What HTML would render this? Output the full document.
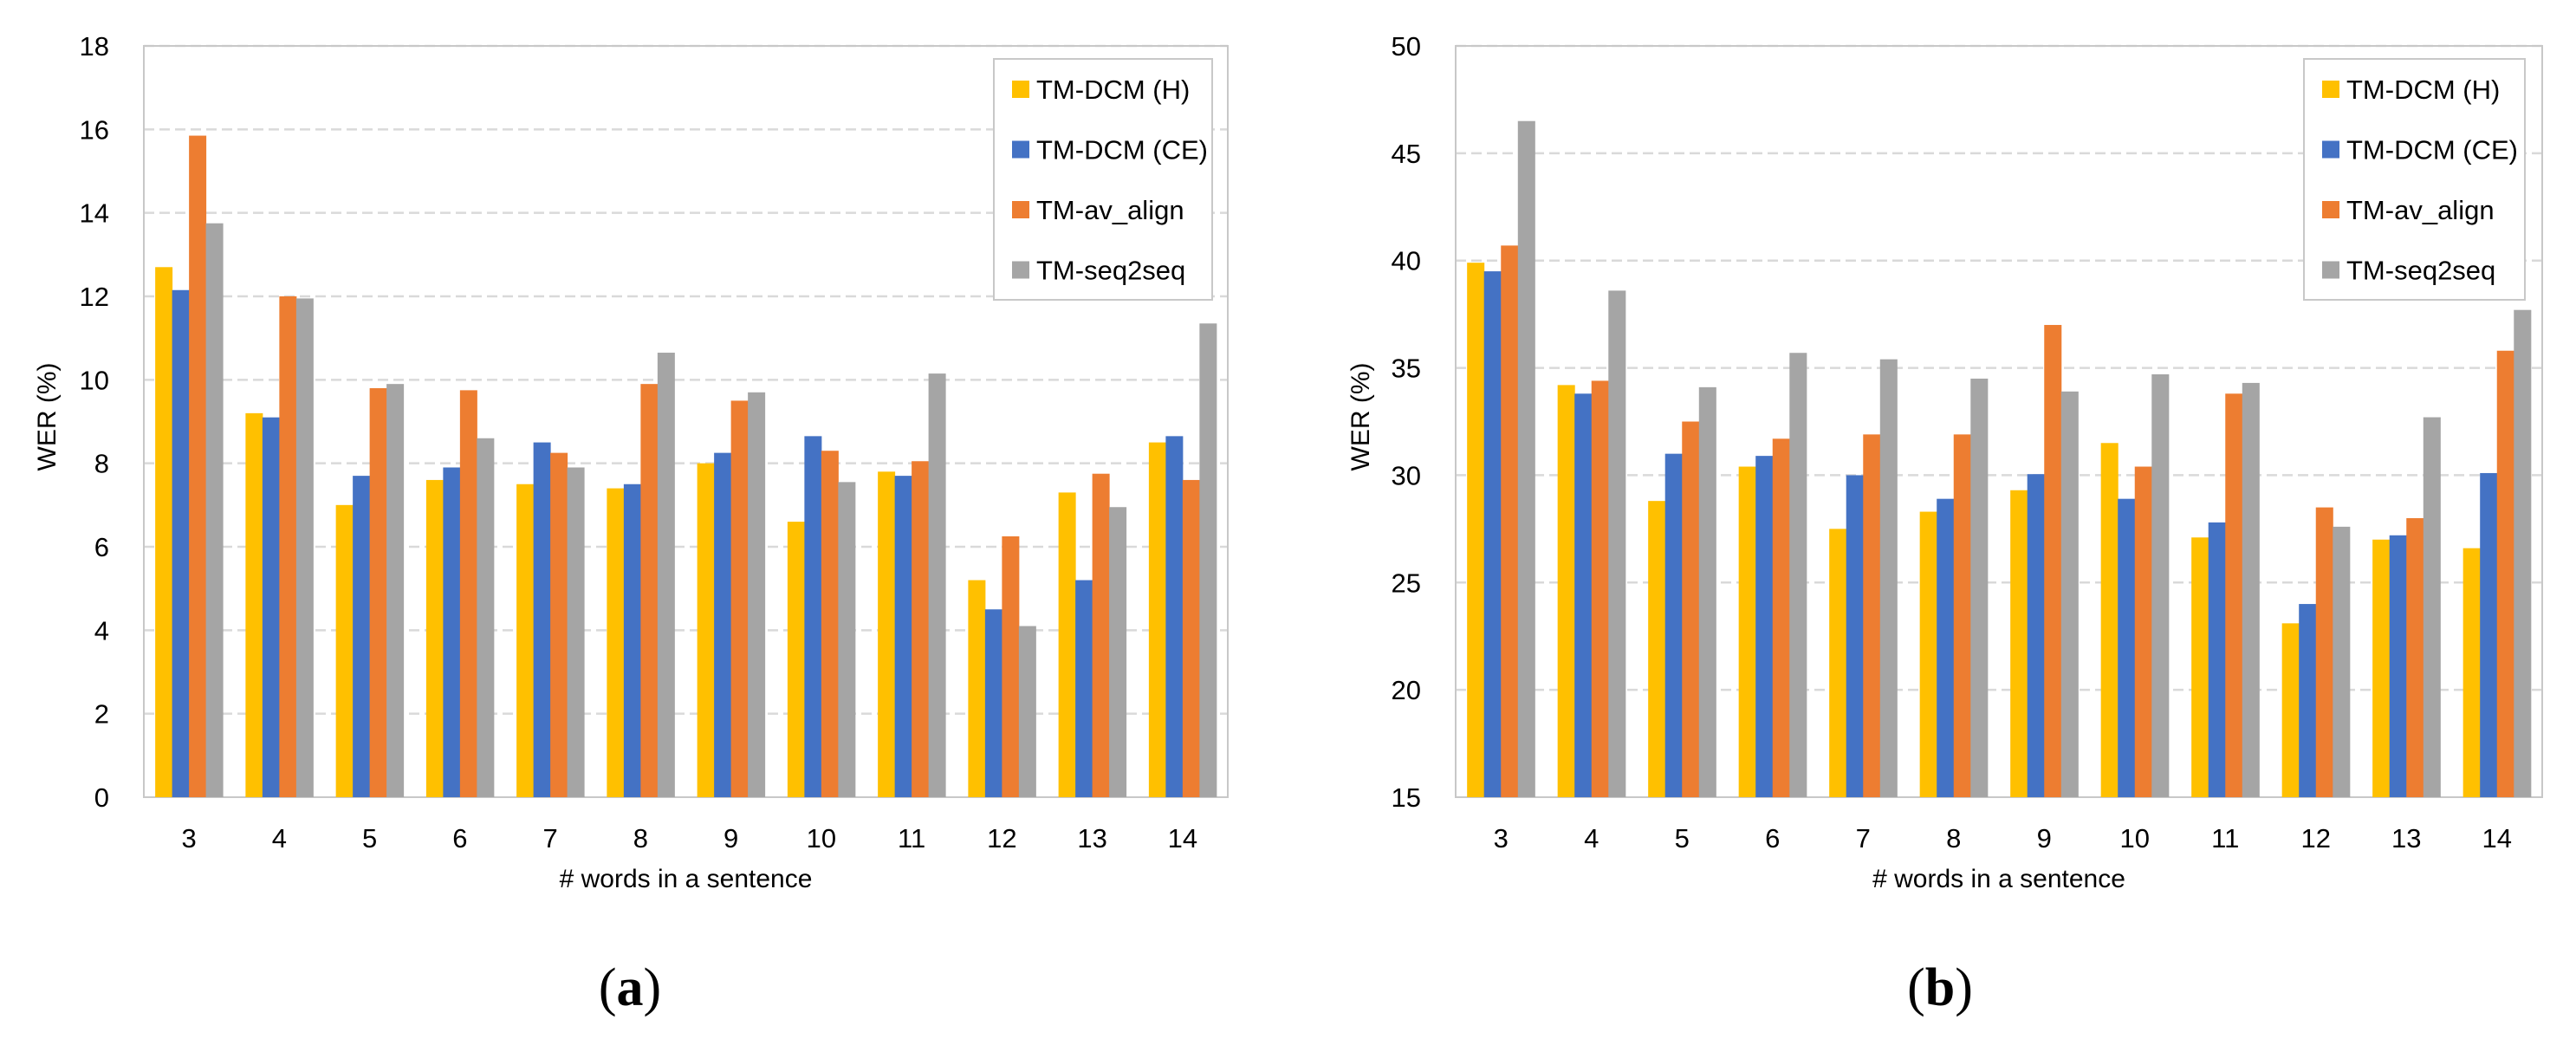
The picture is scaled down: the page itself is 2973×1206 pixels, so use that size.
<!DOCTYPE html>
<html><head><meta charset="utf-8">
<style>
html,body{margin:0;padding:0;background:#fff;}
svg{display:block;font-family:"Liberation Sans",sans-serif;}
</style></head>
<body>
<svg id="svg" width="2973" height="1206" viewBox="0 0 2973 1206" xmlns="http://www.w3.org/2000/svg"></svg>
<script>
const categories = ["3","4","5","6","7","8","9","10","11","12","13","14"];
const seriesNames = ["TM-DCM (H)","TM-DCM (CE)","TM-av_align","TM-seq2seq"];
const colors = ["#FFC000","#4472C4","#ED7D31","#A5A5A5"];
const aH   = [12.7,9.2,7.0,7.6,7.5,7.4,8.0,6.6,7.8,5.2,7.3,8.5];
const aCE  = [12.15,9.1,7.7,7.9,8.5,7.5,8.25,8.65,7.7,4.5,5.2,8.65];
const aAV  = [15.85,12.0,9.8,9.75,8.25,9.9,9.5,8.3,8.05,6.25,7.75,7.6];
const aSEQ = [13.75,11.95,9.9,8.6,7.9,10.65,9.7,7.55,10.15,4.1,6.95,11.35];
const bH   = [39.9,34.2,28.8,30.4,27.5,28.3,29.3,31.5,27.1,23.1,27.0,26.6];
const bCE  = [39.5,33.8,31.0,30.9,30.0,28.9,30.05,28.9,27.8,24.0,27.2,30.1];
const bAV  = [40.7,34.4,32.5,31.7,31.9,31.9,37.0,30.4,33.8,28.5,28.0,35.8];
const bSEQ = [46.5,38.6,34.1,35.7,35.4,34.5,33.9,34.7,34.3,27.6,32.7,37.7];
const aTicks = [0,2,4,6,8,10,12,14,16,18];
const bTicks = [15,20,25,30,35,40,45,50];

const NS="http://www.w3.org/2000/svg";
const svg=document.getElementById('svg');
function mk(tag,attrs,parent){const e=document.createElementNS(NS,tag);for(const k in attrs)e.setAttribute(k,attrs[k]);(parent||svg).appendChild(e);return e;}

function chart(cfg){
  const g=mk('g',{});
  
  
  const L=cfg.left,R=cfg.right,T=53,B=920;
  const ymin=cfg.ticks[0],ymax=cfg.ticks[cfg.ticks.length-1];
  const y=v=>B-(v-ymin)/(ymax-ymin)*(B-T);
  const cw=(R-L)/categories.length;
  const bw=cw*0.187, off=(cw-4*bw)/2;
  const x=(i,s)=>L+i*cw+off+s*bw;
  cfg.ticks.forEach(t=>{
    if(t!==ymin){
      const gl=mk('line',{x1:L,x2:R,y1:y(t),y2:y(t),stroke:'#d9d9d9','stroke-width':2.5,'stroke-dasharray':'12,6'},g);
      
      
    }
    const tl=mk('text',{x:cfg.tickX,y:y(t)+11,'text-anchor':'end','font-size':31,fill:'#000'},g);
    tl.textContent=t;
    
    
  });
  const fr=mk('rect',{x:L,y:T,width:R-L,height:B-T,fill:'none',stroke:'#c8c8c8','stroke-width':2},g);
  
  
  cfg.series.forEach((arr,s)=>{
    arr.forEach((v,i)=>{
      const r=mk('rect',{x:x(i,s),y:y(v),width:bw+0.5,height:B-y(v),fill:colors[s]},g);
      
      
    });
  });
  categories.forEach((c,i)=>{
    const t=mk('text',{x:L+(i+0.5)*cw,y:978,'text-anchor':'middle','font-size':31,fill:'#000'},g);
    t.textContent=c;
    
    
  });
  const xt=mk('text',{x:(L+R)/2,y:1024,'text-anchor':'middle','font-size':30,fill:'#000'},g);
  xt.textContent='# words in a sentence';
  
  
  const yt=mk('text',{x:0,y:0,'text-anchor':'middle','font-size':30,fill:'#000',transform:`translate(${cfg.ytX},481) rotate(-90)`},g);
  yt.textContent='WER (%)';
  
  
  const lg=mk('g',{},g);
  
  
  mk('rect',{x:cfg.lx,y:68,width:cfg.lw,height:278,fill:'#fff',stroke:'#c8c8c8','stroke-width':2},lg);
  seriesNames.forEach((n,s)=>{
    const cy=103+s*69.5;
    const sw=mk('rect',{x:cfg.lx+21,y:cy-10,width:20,height:20,fill:colors[s]},lg);
    
    
    const t=mk('text',{x:cfg.lx+49,y:cy+11,'font-size':31,fill:'#000'},lg);
    t.textContent=n;
    
    
  });
  const cap=mk('text',{x:cfg.capX,y:1160,'text-anchor':'middle','font-size':62,'font-family':'"Liberation Serif",serif',fill:'#000'},g);
  cap.innerHTML='(<tspan font-weight="bold">'+cfg.cap+'</tspan>)';
  
  
}
chart({name:'chart-a',left:166,right:1417,ticks:aTicks,series:[aH,aCE,aAV,aSEQ],tickX:126,ytX:64,lx:1147,lw:252,capX:727,cap:'a'});
chart({name:'chart-b',left:1680,right:2934,ticks:bTicks,series:[bH,bCE,bAV,bSEQ],tickX:1640,ytX:1580,lx:2659,lw:255,capX:2239,cap:'b'});
</script>
</body></html>
